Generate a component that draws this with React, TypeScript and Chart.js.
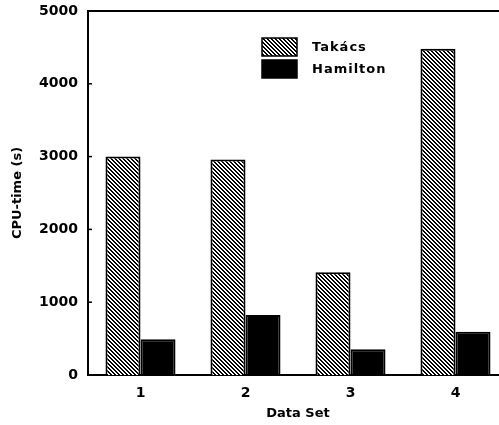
import React, { useEffect, useRef } from "react";
import { Chart, registerables } from "chart.js";

Chart.register(...registerables);

const categories = ["1", "2", "3", "4"];
const seriesNames = ["Takács", "Hamilton"];
const takacs = [3000, 2960, 1410, 4480];
const hamilton = [490, 825, 355, 595];
const yTicks = [0, 1000, 2000, 3000, 4000, 5000];

const FONT = "'DejaVu Sans', sans-serif";

function makeHatch(): CanvasPattern | string {
  const n = 4;
  const c = document.createElement("canvas");
  c.width = n;
  c.height = n;
  const g = c.getContext("2d");
  if (!g) return "#777";
  const img = g.createImageData(n, n);
  for (let y = 0; y < n; y++) {
    for (let x = 0; x < n; x++) {
      const m = (((x - y) % n) + n) % n;
      const v = m < 2 ? 0 : 255;
      const i = (y * n + x) * 4;
      img.data[i] = v;
      img.data[i + 1] = v;
      img.data[i + 2] = v;
      img.data[i + 3] = 255;
    }
  }
  g.putImageData(img, 0, 0);
  const p = g.createPattern(c, "repeat");
  return p || "#777";
}

export default function App() {
  const ref = useRef<HTMLCanvasElement | null>(null);

  useEffect(() => {
    const canvas = ref.current;
    if (!canvas) return;
    const hatch = makeHatch();

    const decor = {
      id: "decor",
      beforeInit(chart: any) {
        try { chart.ctx.letterSpacing = "1px"; } catch (e) {}
      },
      afterDraw(chart: any) {
        const ctx = chart.ctx;
        const a = chart.chartArea;
        const ys = chart.scales.y;
        ctx.save();
        ctx.strokeStyle = "#000";
        ctx.lineWidth = 2;
        ctx.beginPath();
        ctx.moveTo(a.left - 1, a.top);
        ctx.lineTo(a.right + 20, a.top);
        ctx.stroke();
        ctx.lineWidth = 1.5;
        for (const v of yTicks) {
          const y = ys.getPixelForValue(v);
          ctx.beginPath();
          ctx.moveTo(a.left, y);
          ctx.lineTo(a.left + 4, y);
          ctx.stroke();
        }
        const lx = a.left + 174;
        const ly = a.top + 27;
        const bw = 35;
        const bh = 18;
        const gap = 22;
        chart.data.datasets.forEach((ds: any, i: number) => {
          const y = ly + i * gap;
          ctx.fillStyle = ds.backgroundColor;
          ctx.fillRect(lx, y, bw, bh);
          ctx.strokeStyle = "#000";
          ctx.lineWidth = 1.5;
          ctx.strokeRect(lx, y, bw, bh);
          ctx.fillStyle = "#000";
          ctx.font = `bold 13px ${FONT}`;
          ctx.textBaseline = "middle";
          ctx.textAlign = "left";
          try { ctx.letterSpacing = "1px"; } catch (e) {}
          ctx.fillText(ds.label, lx + 50, y + bh / 2 + 1);
        });
        ctx.restore();
      },
    };

    const chart = new Chart(canvas, {
      type: "bar",
      data: {
        labels: categories,
        datasets: [
          {
            label: seriesNames[0],
            data: takacs,
            backgroundColor: hatch as any,
            borderColor: "#000",
            borderWidth: 2,
          },
          {
            label: seriesNames[1],
            data: hamilton,
            backgroundColor: "#000",
            borderColor: "#000",
            borderWidth: 2,
          },
        ],
      },
      options: {
        animation: false,
        responsive: false,
        maintainAspectRatio: false,
        layout: { padding: { left: 0, right: 12, top: 11, bottom: 0 } },
        datasets: {
          bar: { categoryPercentage: 0.667, barPercentage: 1.0 },
        },
        plugins: {
          legend: { display: false },
          tooltip: { enabled: false },
        },
        scales: {
          x: {
            grid: { display: false, drawTicks: false },
            border: { display: true, color: "#000", width: 2 },
            ticks: {
              color: "#000",
              font: { family: FONT, size: 14, weight: "bold" },
              padding: 10,
              maxRotation: 0,
            },
            title: {
              display: true,
              text: "Data Set",
              color: "#000",
              font: { family: FONT, size: 13, weight: "bold" },
              padding: { top: 0, bottom: 4 },
            },
            afterFit(scale: any) {
              scale.height = 50;
              scale.paddingLeft = 0;
              scale.paddingRight = 0;
            },
          },
          y: {
            min: 0,
            max: 5000,
            grid: { display: false, drawTicks: false },
            border: { display: true, color: "#000", width: 2 },
            afterBuildTicks(scale: any) {
              scale.ticks = yTicks.map((v) => ({ value: v }));
            },
            ticks: {
              color: "#000",
              font: { family: FONT, size: 14, weight: "bold" },
              padding: 10,
              callback: (v: any) => String(v),
            },
            title: {
              display: true,
              text: "CPU-time (s)",
              color: "#000",
              font: { family: FONT, size: 13, weight: "bold" },
              padding: { top: 10, bottom: 0 },
            },
            afterFit(scale: any) {
              scale.width = 88;
              scale.paddingTop = 0;
              scale.paddingBottom = 0;
            },
          },
        },
      },
      plugins: [decor],
    });

    return () => chart.destroy();
  }, []);

  return (
    <div
      style={{
        position: "fixed",
        left: 0,
        top: 0,
        width: 499,
        height: 425,
        overflow: "hidden",
        background: "#fff",
      }}
    >
      <canvas ref={ref} width={520} height={425} style={{ display: "block" }} />
    </div>
  );
}
